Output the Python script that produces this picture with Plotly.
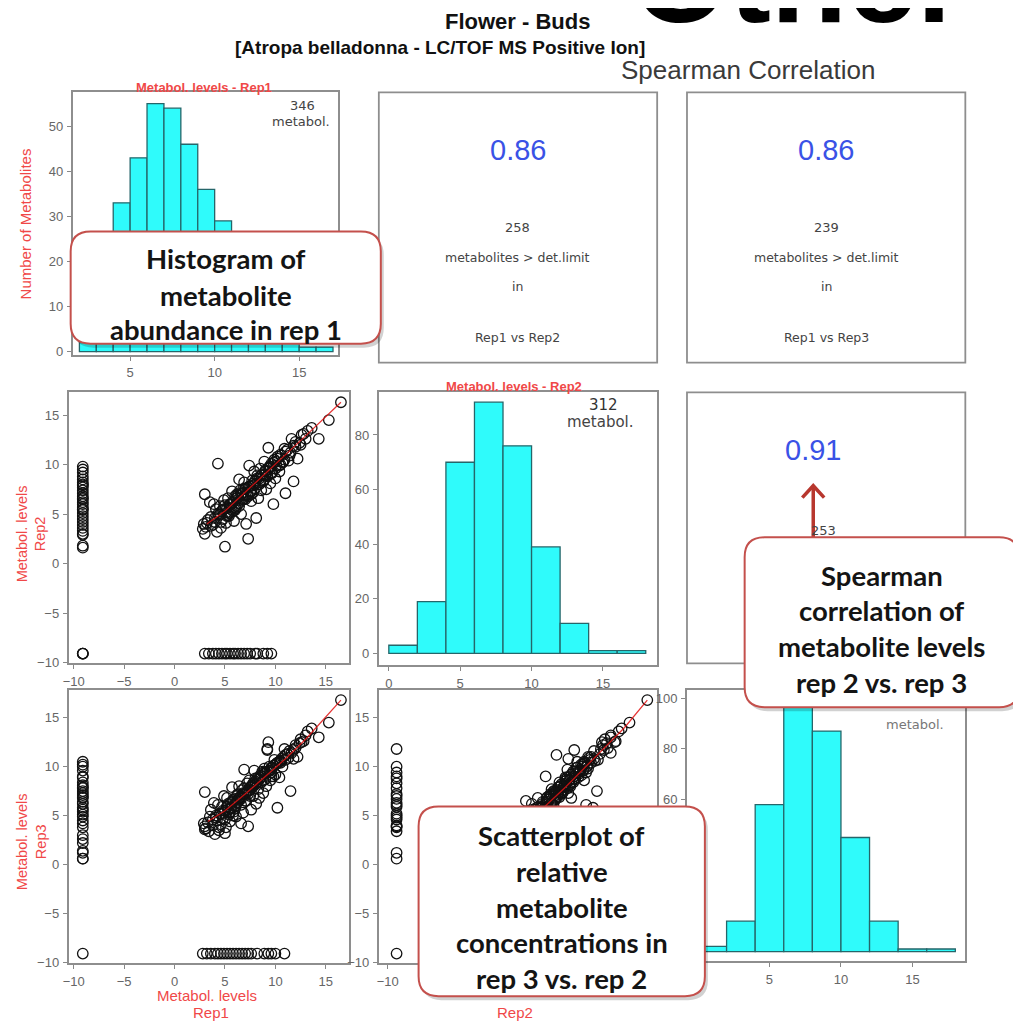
import plotly.graph_objects as go

W, H = 1021, 1028          # reference picture size
OFF = 8                    # page body margin
FW, FH = W - OFF, H - OFF  # figure size
def px(x): return (x - OFF) / FW
def py(y): return 1 - (y - OFF) / FH

# ---------------- data ----------------
ND = -9.1  # value used for "not detected"

hist1_bin_start = [2, 3, 4, 5, 6, 7, 8, 9, 10, 11, 12, 13, 14, 15, 16]
hist1_counts = [2, 8, 33, 43, 55, 54, 46, 36, 29, 20, 10, 5, 3, 1, 1]
hist1_width = 1
hist2_bin_start = [0, 2, 4, 6, 8, 10, 12, 14, 16]
hist2_counts = [3, 19, 70, 92, 76, 39, 11, 1, 1]
hist2_width = 2
hist3_bin_start = [0, 2, 4, 6, 8, 10, 12, 14, 16]
hist3_counts = [2, 12, 58, 101, 87, 45, 12, 1, 1]
hist3_width = 2

n_metabol = [346, 312]
corr_labels = ["Rep1 vs Rep2", "Rep1 vs Rep3", "Rep2 vs Rep3"]
corr_values = [0.86, 0.86, 0.91]
corr_counts = [258, 239, 253]

rep1 = [5.2, 5.4, 5.6, 5.8, 6.0, 6.2, 6.4, 6.6, 6.8, 7.0,
        7.2, 7.4, 7.6, 7.8, 8.0, 8.2, 8.4, 8.6, 8.8, 9.0,
        9.2, 9.4, 9.6, 9.8, 10.0, 10.2, 10.4, 10.6, 10.8, 11.2,
        11.4, 11.8, 12.4, 12.6, 13.0, 4.5, 4.8, 5.3, 6.3, 7.3,
        16.5, 15.3, 14.3, 13.6, 13.2, 12.8, 12.5, 12.2, 12.0, 11.8,
        11.6, 11.5, 11.3, 11.0, 10.9, 10.7, 10.5, 10.4, 10.2, 10.1,
        10.0, 9.9, 9.8, 9.7, 9.6, 9.5, 9.4, 9.3, 9.2, 9.1,
        9.0, 8.9, 8.8, 8.7, 8.6, 8.5, 8.4, 8.3, 8.2, 8.1,
        8.0, 7.9, 7.8, 7.7, 7.6, 7.5, 7.4, 7.3, 7.2, 7.1,
        7.0, 6.9, 6.8, 6.7, 6.6, 6.5, 6.4, 6.3, 6.2, 6.1,
        6.0, 5.9, 5.8, 5.7, 5.6, 5.5, 5.4, 5.3, 5.2, 5.1,
        5.0, 5.0, 4.9, 4.8, 4.7, 4.6, 4.5, 4.4, 4.3, 4.2,
        4.1, 4.0, 3.9, 3.8, 3.6, 3.5, 3.3, 3.1, 3.0, 3.0,
        2.9, 6.5, 7.0, 7.5, 8.0, 8.5, 9.0, 6.0, 5.5, 10.5,
        11.0, 7.8, 6.8, 9.5, 12.0,
        ND, ND, ND, ND, ND, ND, ND, ND, ND, ND,
        ND, ND, ND, ND, ND, ND, ND, ND, ND, ND,
        ND, ND, ND, ND, ND, ND, ND, ND, ND,
        3.0, 3.4, 3.8, 4.1, 4.4, 4.7, 5.0, 5.2, 5.5, 5.8,
        6.0, 6.3, 6.6, 6.9, 7.2, 7.5, 8.0, 8.8, 9.2, 9.6,
        2.8, 3.2, 3.6, 4.0, 4.3, 4.6, 4.9, 5.2, 5.5, 5.8,
        6.1, 6.4, 6.7, 7.0, 7.3, 7.6, 8.9, 9.3, 9.6, 10.0, 10.9,
        ND, ND, ND, ND, 8.2]

rep2 = [5.6, 5.1, 6.0, 6.2, 5.7, 6.6, 6.1, 7.0, 6.5, 7.5,
        6.9, 7.8, 7.3, 8.1, 7.6, 8.6, 8.0, 8.9, 8.4, 9.3,
        8.8, 9.8, 9.1, 10.2, 9.6, 10.6, 9.9, 10.9, 10.3, 11.5,
        10.9, 11.9, 12.2, 13.0, 12.6, 5.0, 5.4, 4.9, 6.9, 6.8,
        16.3, 14.5, 12.6, 13.7, 13.4, 13.1, 12.0, 10.6, 11.8, 8.3,
        12.6, 11.2, 10.4, 7.1, 11.6, 10.2, 11.0, 9.3, 10.8, 9.9,
        8.6, 10.5, 6.0, 9.2, 10.1, 8.1, 9.7, 11.7, 8.9, 7.5,
        9.4, 10.3, 8.3, 9.0, 7.4, 9.6, 8.6, 6.6, 8.9, 4.6,
        8.0, 9.3, 7.2, 8.4, 6.3, 7.8, 9.9, 2.5, 7.0, 4.0,
        7.6, 8.2, 6.5, 7.1, 5.0, 7.4, 8.5, 6.1, 7.0, 5.6,
        6.8, 4.3, 6.2, 7.3, 5.5, 6.0, 4.8, 6.6, 5.2, 4.1,
        1.7, 5.9, 6.4, 4.5, 5.3, 3.6, 5.8, 4.9, 10.1, 3.2,
        5.5, 4.2, 6.0, 3.9, 4.7, 6.2, 4.4, 3.7, 3.0, 7.0,
        4.0, 6.4, 6.9, 7.3, 8.4, 8.2, 9.0, 5.4, 5.1, 10.0,
        11.3, 7.9, 7.5, 9.8, 12.3,
        9.8, 9.5, 9.2, 8.8, 8.5, 8.2, 8.0, 7.7, 7.4, 7.1,
        6.8, 6.5, 6.2, 6.0, 5.7, 5.4, 5.1, 4.8, 4.5, 4.2,
        3.9, 3.6, 3.3, 3.0, 1.8, 1.6, 7.9, 6.6, 5.5,
        ND, ND, ND, ND, ND, ND, ND, ND, ND, ND,
        ND, ND, ND, ND, ND, ND, ND, ND, ND, ND,
        3.5, 4.1, 3.8, 4.6, 5.0, 4.2, 5.5, 4.8, 6.0, 5.3,
        6.6, 5.8, 7.1, 6.5, 7.7, 7.0, 8.5, 9.6, 9.2, 10.3, 10.5,
        ND, ND, ND, 2.9, ND]

rep3 = [5.9, 5.3, 5.7, 6.4, 6.2, 6.3, 6.8, 6.7, 7.2, 7.3,
        7.5, 7.6, 7.9, 8.3, 8.2, 8.4, 8.7, 9.0, 8.6, 9.4,
        9.5, 9.6, 9.9, 10.1, 10.2, 10.4, 10.5, 10.8, 11.0, 11.3,
        11.6, 11.7, 12.4, 12.5, 13.2, 5.2, 5.5, 5.6, 6.6, 7.2,
        16.8, 14.5, 13.0, 13.9, 13.6, 12.6, 12.8, 11.0, 12.2, 10.8,
        11.4, 7.5, 10.9, 11.2, 11.8, 10.0, 10.6, 8.9, 5.8, 10.3,
        9.2, 10.7, 9.0, 9.9, 9.4, 8.6, 10.0, 12.5, 11.7, 8.0,
        9.3, 9.8, 7.3, 9.5, 8.4, 9.1, 6.8, 7.7, 8.8, 6.2,
        8.5, 9.6, 7.0, 8.1, 5.6, 7.9, 8.6, 3.9, 7.4, 6.5,
        7.2, 9.7, 5.3, 7.6, 4.2, 6.9, 8.0, 6.4, 7.1, 4.9,
        6.0, 5.4, 6.6, 7.9, 5.8, 4.4, 5.1, 6.2, 6.8, 3.8,
        3.2, 5.5, 7.0, 4.7, 5.9, 4.1, 5.2, 3.5, 6.1, 4.5,
        5.0, 3.1, 6.3, 4.6, 5.6, 4.9, 4.3, 3.7, 3.6, 7.4,
        4.2, 6.7, 6.5, 7.6, 8.2, 8.9, 8.7, 5.7, 5.3, 10.4,
        10.7, 8.0, 7.3, 9.6, 11.9,
        10.2, 9.6, 10.5, 8.4, 9.0, 7.8, 8.9, 7.3, 7.9, 6.8,
        7.5, 6.2, 6.9, 5.6, 6.4, 5.1, 5.8, 4.5, 4.9, 3.8,
        4.2, 3.0, 2.6, 2.2, 1.4, 0.6, 8.1, 7.1, 5.4,
        3.9, 3.4, 4.0, 4.8, 3.8, 5.2, 4.6, 5.9, 6.3, 5.0,
        6.7, 7.2, 6.1, 7.8, 8.3, 7.0, 8.8, 9.4, 11.8, 9.0,
        ND, ND, ND, ND, ND, ND, ND, ND, ND, ND,
        ND, ND, ND, ND, ND, ND, ND, ND, ND, ND, ND,
        0.6, 1.2, 10.0, ND, ND]

fit12_x = [3.2, 5.0, 7.0, 9.0, 11.0, 13.0, 16.5]
fit12_y = [4.0, 5.3, 7.2, 9.1, 10.9, 12.9, 16.3]
fit13_x = [3.3, 5.0, 7.0, 9.0, 11.0, 13.0, 16.5]
fit13_y = [4.4, 5.5, 7.2, 9.0, 10.8, 12.8, 16.8]
fit23_x = [4.0, 6.0, 8.0, 10.0, 12.0, 14.0, 16.3]
fit23_y = [4.3, 6.0, 7.9, 9.9, 11.9, 14.0, 16.8]

sc_ticks = [-10, -5, 0, 5, 10, 15]

# ---------------- styles ----------------
RED = "#f04848"
BOXC = "#8e8e8e"
CYAN = "#2ffbfb"
BAREDGE = "#25666a"
RFONT = "Liberation Sans, Arial"
PFONT = "DejaVu Sans, Liberation Sans"
TICKFONT = dict(family=RFONT, size=13, color="#666")

fig = go.Figure()

def add_hist(starts, counts, width, xa, ya):
    fig.add_trace(go.Bar(x=[s + width / 2 for s in starts], y=counts, width=[width] * len(starts),
                         marker=dict(color=CYAN, line=dict(color=BAREDGE, width=1.3)),
                         xaxis=xa, yaxis=ya, hoverinfo="skip"))

def add_scatter(xs, ys, fx, fy, xa, ya):
    fig.add_trace(go.Scatter(x=xs, y=ys, mode="markers",
                             marker=dict(symbol="circle-open", size=10.5, color="#111",
                                         line=dict(width=1.3)),
                             xaxis=xa, yaxis=ya, hoverinfo="skip", cliponaxis=False))
    fig.add_trace(go.Scatter(x=fx, y=fy, mode="lines", line=dict(color="rgba(225,20,20,0.85)", width=1.3),
                             xaxis=xa, yaxis=ya, hoverinfo="skip"))

add_hist(hist1_bin_start, hist1_counts, hist1_width, "x", "y")
add_scatter(rep1, rep2, fit12_x, fit12_y, "x2", "y2")
add_hist(hist2_bin_start, hist2_counts, hist2_width, "x3", "y3")
add_scatter(rep1, rep3, fit13_x, fit13_y, "x4", "y4")
add_scatter(rep2, rep3, fit23_x, fit23_y, "x5", "y5")
add_hist(hist3_bin_start, hist3_counts, hist3_width, "x6", "y6")

def ax(domain, rng, ticks, anchor):
    return dict(domain=domain, range=rng, tickvals=ticks, anchor=anchor,
                showline=True, mirror=True, linecolor=BOXC, linewidth=1.8,
                ticks="outside", ticklen=4, tickcolor="#888", tickwidth=1.2,
                tickfont=TICKFONT, showgrid=False, zeroline=False, fixedrange=True,
                ticklabelstandoff=1)

def xd(a, b): return [px(a), px(b)]
def yd(top, bottom): return [py(bottom), py(top)]

layout_axes = dict(
    xaxis=ax(xd(67, 334), [1.6, 17.3], [5, 10, 15], "y"),
    yaxis=ax(yd(93, 357), [-0.66, 57.5], [0, 10, 20, 30, 40, 50], "x"),
    xaxis2=ax(xd(63, 345), [-10.5, 17.3], sc_ticks, "y2"),
    yaxis2=ax(yd(395, 668), [-10.1, 17.3], sc_ticks, "x2"),
    xaxis3=ax(xd(375, 655), [-0.7, 18.8], [0, 5, 10, 15], "y3"),
    yaxis3=ax(yd(395, 670), [-4.4, 95.6], [0, 20, 40, 60, 80], "x3"),
    xaxis4=ax(xd(63, 345), [-10.5, 17.3], sc_ticks, "y4"),
    yaxis4=ax(yd(695, 970), [-10.1, 17.8], sc_ticks, "x4"),
    xaxis5=ax(xd(375, 655), [-10.9, 17.3], [-10], "y5"),
    yaxis5=ax(yd(695, 970), [-10.1, 17.8], sc_ticks, "x5"),
    xaxis6=ax(xd(685, 965), [-0.77, 18.7], [5, 10, 15], "y6"),
    yaxis6=ax(yd(695, 968), [-3.9, 103.1], [60, 80, 100], "x6"),
)

shapes = []
# text-only panels
for (x0, y0, x1, y1) in [(375, 93, 655, 365), (685, 93, 965, 365), (685, 395, 965, 668)]:
    shapes.append(dict(type="rect", xref="paper", yref="paper", x0=px(x0), x1=px(x1),
                       y0=py(y1), y1=py(y0), line=dict(color=BOXC, width=1.8), layer="below"))
# faint border at right edge
shapes.append(dict(type="line", xref="paper", yref="paper", x0=px(1015), x1=px(1015),
                   y0=py(965), y1=py(93), line=dict(color="#dcdcdc", width=1.5), layer="below"))

def P(x, y): return f"{px(x):.5f},{py(y):.5f}"

def rrect(x0, y0, x1, y1, r):
    return (f"M {P(x0 + r, y0)} L {P(x1 - r, y0)} Q {P(x1, y0)} {P(x1, y0 + r)} "
            f"L {P(x1, y1 - r)} Q {P(x1, y1)} {P(x1 - r, y1)} L {P(x0 + r, y1)} "
            f"Q {P(x0, y1)} {P(x0, y1 - r)} L {P(x0, y0 + r)} Q {P(x0, y0)} {P(x0 + r, y0)} Z")

# arrow pointing at 0.91 (drawn under the callout)
ARROWC = "#b8372e"
shapes.append(dict(type="line", xref="paper", yref="paper", x0=px(812), x1=px(812), y0=py(545), y1=py(490),
                   line=dict(color=ARROWC, width=3.5), layer="above"))
shapes.append(dict(type="path", xref="paper", yref="paper", path=f"M {P(801, 501)} L {P(812, 489)} L {P(823, 501)}",
                   line=dict(color=ARROWC, width=3.5), layer="above"))

callouts = [
    ((65, 233, 377, 346), ["Histogram of", "metabolite", "abundance in rep 1"], [260, 297, 332]),
    ((743, 541, 1019, 712), ["Spearman", "correlation of", "metabolite levels", "rep 2 vs. rep 3"],
     [579, 615, 651, 687]),
    ((415, 812, 703, 1003), ["Scatterplot of", "relative", "metabolite", "concentrations in", "rep 3 vs. rep 2"],
     [841, 877, 914, 949, 985]),
]
annotations = []
for (x0, y0, x1, y1), lines, ys in callouts:
    shapes.append(dict(type="path", xref="paper", yref="paper", path=rrect(x0 + 3, y0 + 4, x1 + 3, y1 + 4, 20),
                       fillcolor="rgba(0,0,0,0.18)", line=dict(width=0), layer="above"))
    shapes.append(dict(type="path", xref="paper", yref="paper", path=rrect(x0, y0, x1, y1, 20),
                       fillcolor="white", line=dict(color="#c4504c", width=2), layer="above"))
    cx = (x0 + x1) / 2
    for t, yy in zip(lines, ys):
        annotations.append(dict(text=f"<b>{t}</b>", x=px(cx), y=py(yy), xref="paper", yref="paper",
                                showarrow=False, xanchor="center", yanchor="middle",
                                font=dict(family="Lato, Open Sans", size=27.5, color="#141414")))

def txt(x, y, t, size=11, color="#444", family=RFONT, angle=0, xanchor="center"):
    annotations.append(dict(text=t, x=px(x), y=py(y), xref="paper", yref="paper", showarrow=False,
                            xanchor=xanchor, yanchor="middle", textangle=angle,
                            font=dict(family=family, size=size, color=color)))

# big partially cut header text
annotations.insert(0, dict(text="<b>Other</b>", x=px(628), y=py(50), xref="paper", yref="paper",
                           showarrow=False, xanchor="left", yanchor="bottom",
                           font=dict(family=RFONT, size=125, color="#000")))

# titles
txt(515, 22, "<b>Flower - Buds</b>", 22, "#111")
txt(437, 48, "<b>[Atropa belladonna - LC/TOF MS Positive Ion]</b>", 19, "#111")
txt(746, 70, "Spearman Correlation", 26, "#3a3a3a")

# histogram labels
txt(199, 88, "<b>Metabol. levels - Rep1</b>", 13, RED)
txt(511, 389, "<b>Metabol. levels - Rep2</b>", 13, RED)
txt(20, 225, "Number of Metabolites", 15, RED, angle=-90)
txt(298, 106, str(n_metabol[0]), 13, "#444", PFONT)
txt(297, 122, "metabol.", 13, "#444", PFONT)
txt(601, 408, str(n_metabol[1]), 15, "#333", PFONT)
txt(598, 425, "metabol.", 15, "#444", PFONT)
txt(914, 729, "metabol.", 13, "#777", PFONT)

# correlation panels
for cx, i in [(515, 0), (825, 1)]:
    txt(cx, 151, f"{corr_values[i]:.2f}", 29, "#3a52e6")
    txt(cx, 229, str(corr_counts[i]), 13, "#444", PFONT)
    txt(cx, 259, "metabolites &gt; det.limit", 12.5, "#444", PFONT)
    txt(cx, 288, "in", 12.5, "#444", PFONT)
    txt(cx, 340, corr_labels[i], 12.5, "#444", PFONT)
txt(812, 453, f"{corr_values[2]:.2f}", 29, "#3a52e6")
txt(822, 534, str(corr_counts[2]), 13, "#444", PFONT)

# scatter axis labels
txt(25, 537, "Metabol. levels<br>Rep2", 14.5, RED, angle=-90)
txt(25, 847, "Metabol. levels<br>Rep3", 14.5, RED, angle=-90)
txt(202, 1002, "Metabol. levels", 15, RED)
txt(206, 1019, "Rep1", 15, RED)
txt(512, 1019, "Rep2", 15, RED)

fig.update_layout(width=FW, height=FH, margin=dict(l=0, r=0, t=0, b=0),
                  paper_bgcolor="white", plot_bgcolor="white", showlegend=False,
                  shapes=shapes, annotations=annotations, **layout_axes)

fig.write_html("out.html", include_plotlyjs=True, config={"displayModeBar": False})
